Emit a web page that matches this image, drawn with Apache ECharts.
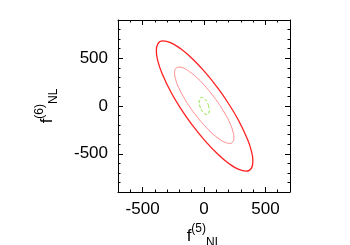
<!DOCTYPE html>
<html>
<head>
<meta charset="utf-8">
<script src="https://cdn.jsdelivr.net/npm/echarts@6/dist/echarts.min.js"></script>
<style>
  html, body { margin: 0; padding: 0; background: #fff; }
  #chart { width: 350px; height: 245px; }
</style>
</head>
<body>
<div id="chart"></div>
<script>
// contour points, [f5, f6]
var outerContour = [[202, 21], [107, 197], [5, 359], [-97, 497], [-192, 601], [-273, 664], [-335, 682], [-375, 653],
    [-388, 580], [-375, 467], [-335, 322], [-273, 155], [-192, -21], [-97, -197], [5, -359], [107, -497],
    [202, -601], [283, -664], [345, -682], [385, -653], [398, -580], [385, -467], [345, -322], [283, -155]];
var innerContour = [[123, 20], [64, 123], [2, 218], [-60, 299], [-119, 360], [-168, 397], [-207, 407], [-231, 390],
    [-239, 347], [-231, 281], [-207, 196], [-168, 99], [-119, -4], [-60, -107], [2, -202], [64, -283],
    [123, -344], [172, -381], [211, -391], [235, -374], [243, -331], [235, -265], [211, -180], [172, -83]];
var greenContour = [[38, 0], [23, 45], [2, 77], [-19, 89], [-34, 77], [-39, 45], [-34, 0], [-19, -45], [2, -77], [23, -89], [38, -77], [43, -45]];
var xMajorTicks = [-500, 0, 500];
var yMajorTicks = [-500, 0, 500];

var font = 'Liberation Sans, Arial, sans-serif';

function closeLoop(pts) {
    return pts.concat([pts[0]]);
}

function makeAxis(pos, min, max, major, isMain, opts) {
    var axis = {
        type: 'value',
        position: pos,
        min: min,
        max: max,
        interval: 100,
        axisLine: { show: isMain, onZero: false, lineStyle: { color: '#000', width: 1 } },
        axisTick: { show: true, inside: true, length: 2.5, lineStyle: { color: '#000', width: 1 } },
        axisLabel: { show: false },
        splitLine: { show: false }
    };
    if (major) {
        axis.axisLine.show = false;
        axis.axisTick = { show: true, inside: true, length: 5, customValues: major, lineStyle: { color: '#000', width: 1 } };
    }
    for (var k in opts) axis[k] = opts[k];
    return axis;
}

var titleRich = {
    f: { fontSize: 17, fontFamily: font, color: '#000' },
    sup: { fontSize: 12, fontFamily: font, color: '#000', verticalAlign: 'top' },
    sub: { fontSize: 12, fontFamily: font, color: '#000', verticalAlign: 'bottom' }
};

var chart = echarts.init(document.getElementById('chart'), null, { renderer: 'canvas' });
chart.setOption({
    animation: false,
    grid: { left: 118, top: 20, width: 172, height: 172, outerBoundsMode: 'none', containLabel: false },
    xAxis: [
        makeAxis('bottom', -700, 700, null, true, {
            axisLabel: { show: true, customValues: xMajorTicks, fontSize: 17, fontFamily: font, color: '#000', margin: 9 },
            name: '{f|f}{sup|(5)}{sub|NL}',
            nameLocation: 'middle',
            nameGap: 29,
            nameTextStyle: { rich: titleRich, lineHeight: 26 }
        }),
        makeAxis('bottom', -700, 700, xMajorTicks, false, {}),
        makeAxis('top', -700, 700, null, true, {}),
        makeAxis('top', -700, 700, xMajorTicks, false, {})
    ],
    yAxis: [
        makeAxis('left', -900, 900, null, true, {
            axisLabel: { show: true, customValues: yMajorTicks, fontSize: 17, fontFamily: font, color: '#000', margin: 10 },
            name: '{f|f}{sup|(6)}{sub|NL}',
            nameLocation: 'middle',
            nameRotate: 90,
            nameGap: 58,
            nameTextStyle: { rich: titleRich, lineHeight: 26 }
        }),
        makeAxis('left', -900, 900, yMajorTicks, false, {}),
        makeAxis('right', -900, 900, null, true, {}),
        makeAxis('right', -900, 900, yMajorTicks, false, {})
    ],
    series: [
        {
            type: 'line', smooth: true, showSymbol: false,
            data: closeLoop(outerContour),
            lineStyle: { color: '#ff2020', width: 1.3 }
        },
        {
            type: 'line', smooth: true, showSymbol: false,
            data: closeLoop(innerContour),
            lineStyle: { color: '#ff8c8c', width: 1 }
        },
        {
            type: 'line', smooth: true, showSymbol: false,
            data: closeLoop(greenContour),
            lineStyle: { color: '#88e040', width: 1, type: [3, 2] }
        }
    ]
});
</script>
</body>
</html>
